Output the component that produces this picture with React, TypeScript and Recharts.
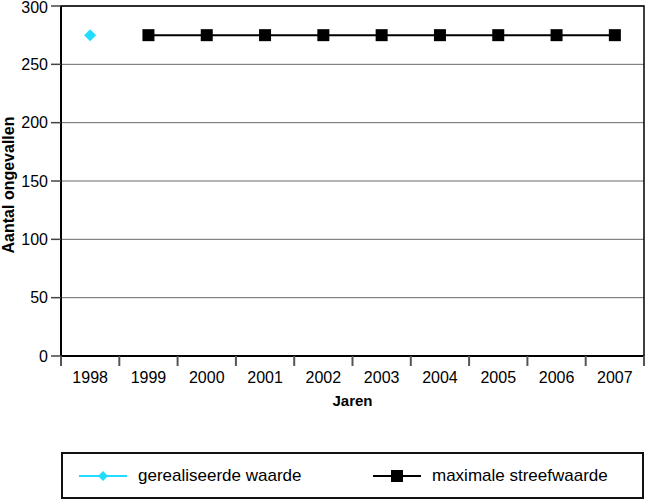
import React from 'react';
import {
  LineChart,
  Line,
  XAxis,
  YAxis,
  CartesianGrid,
  Legend,
  ReferenceArea,
} from 'recharts';

const years = ['1998', '1999', '2000', '2001', '2002', '2003', '2004', '2005', '2006', '2007'];
const gerealiseerd: (number | null)[] = [275, null, null, null, null, null, null, null, null, null];
const streefwaarde: (number | null)[] = [null, 275, 275, 275, 275, 275, 275, 275, 275, 275];
const yTicks = [0, 50, 100, 150, 200, 250, 300];

const seriesNames = { real: 'gerealiseerde waarde', target: 'maximale streefwaarde' };

const data = years.map((y, i) => ({
  year: y,
  real: gerealiseerd[i],
  target: streefwaarde[i],
}));

const W = 646;
const H = 500;
const M = { top: 6, right: 2, left: 0, bottom: 47 };
const Y_W = 61;
const X_H = 50;
const LEG_H = 47;
const PLOT_L = M.left + Y_W;
const PLOT_R = W - M.right;
const PLOT_B = H - M.bottom - LEG_H - X_H;
const BAND = (PLOT_R - PLOT_L) / years.length;
const FONT = '"Liberation Sans", Arial, Helvetica, sans-serif';
const CYAN = '#22DDFF';

const XTick = (props: any) => {
  const { x, payload, index } = props;
  const left = x - BAND / 2;
  return (
    <g>
      <line x1={left} y1={PLOT_B} x2={left} y2={PLOT_B + 10} stroke="#555" strokeWidth={2} />
      {index === years.length - 1 && (
        <line x1={x + BAND / 2} y1={PLOT_B} x2={x + BAND / 2} y2={PLOT_B + 10} stroke="#555" strokeWidth={2} />
      )}
      <text x={x} y={PLOT_B + 27} textAnchor="middle" fontSize={16} fontFamily={FONT} fill="#000">
        {payload.value}
      </text>
    </g>
  );
};

const YTick = (props: any) => {
  const { x, y, payload } = props;
  const yy = Math.max(y, 7);
  return (
    <text x={x} y={yy} dy="0.355em" textAnchor="end" fontSize={16} fontFamily={FONT} fill="#000">
      {payload.value}
    </text>
  );
};

const SquareDot = (props: any) => {
  const { cx, cy, value, index } = props;
  if (value == null || cy == null) return <g key={`s${index}`} />;
  return <rect key={`s${index}`} x={cx - 6} y={cy - 6} width={12} height={12} fill="#000" />;
};

const DiamondDot = (props: any) => {
  const { cx, cy, value, index } = props;
  if (value == null || cy == null) return <g key={`d${index}`} />;
  return (
    <polygon
      key={`d${index}`}
      points={`${cx},${cy - 6} ${cx + 6},${cy} ${cx},${cy + 6} ${cx - 6},${cy}`}
      fill={CYAN}
    />
  );
};

const LegendBox = () => (
  <div
    style={{
      position: 'relative',
      width: PLOT_R - PLOT_L,
      height: LEG_H,
      boxSizing: 'border-box',
      border: '2px solid #111',
      fontFamily: FONT,
      fontSize: 17,
      color: '#000',
    }}
  >
    <div style={{ position: 'absolute', left: 16, top: 0, height: 43, display: 'flex', alignItems: 'center' }}>
      <svg width={48} height={14} style={{ display: 'block' }}>
        <line x1={0} y1={7} x2={48} y2={7} stroke={CYAN} strokeWidth={2} />
        <polygon points="24,2 29,7 24,12 19,7" fill={CYAN} />
      </svg>
      <span style={{ marginLeft: 11 }}>{seriesNames.real}</span>
    </div>
    <div style={{ position: 'absolute', left: 310, top: 0, height: 43, display: 'flex', alignItems: 'center' }}>
      <svg width={48} height={14} style={{ display: 'block' }}>
        <line x1={0} y1={7} x2={48} y2={7} stroke="#000" strokeWidth={2} />
        <rect x={18} y={1} width={12} height={12} fill="#000" />
      </svg>
      <span style={{ marginLeft: 11 }}>{seriesNames.target}</span>
    </div>
  </div>
);

const Y_TITLE_Y = 185;

export default function App() {
  return (
    <div style={{ position: 'absolute', left: 0, top: 0, width: W, height: H, background: '#fff' }}>
      <LineChart width={W} height={H} data={data} margin={M}>
        <CartesianGrid horizontal vertical={false} stroke="#6a6a6a" strokeWidth={1} />
        <ReferenceArea y1={0} y2={300} fill="none" stroke="#000" strokeWidth={1.5} ifOverflow="visible" />
        <XAxis
          dataKey="year"
          scale="band"
          height={X_H}
          tickLine={false}
          axisLine={{ stroke: '#000', strokeWidth: 2 }}
          tick={<XTick />}
          interval={0}
          label={{
            value: 'Jaren',
            position: 'insideBottom',
            offset: 0,
            content: () => (
              <text x={(PLOT_L + PLOT_R) / 2} y={PLOT_B + 50} textAnchor="middle" fontSize={15} fontWeight="bold" fontFamily={FONT} fill="#000">
                Jaren
              </text>
            ),
          }}
        />
        <YAxis
          width={Y_W}
          domain={[0, 300]}
          ticks={yTicks}
          interval={0}
          tickSize={10}
          tickMargin={3}
          tickLine={{ stroke: '#444', strokeWidth: 1.5 }}
          axisLine={{ stroke: '#000', strokeWidth: 2 }}
          tick={<YTick />}
          label={{
            value: 'Aantal ongevallen',
            content: () => (
              <text
                x={14}
                y={Y_TITLE_Y}
                transform={`rotate(-90 14 ${Y_TITLE_Y})`}
                textAnchor="middle"
                fontSize={16}
                fontWeight="bold"
                fontFamily={FONT}
                fill="#000"
              >
                Aantal ongevallen
              </text>
            ),
          }}
        />
        <Legend
          verticalAlign="bottom"
          content={() => <LegendBox />}
          wrapperStyle={{ left: PLOT_L, top: H - LEG_H - 1, bottom: 'auto', width: PLOT_R - PLOT_L, height: LEG_H }}
        />
        <Line
          dataKey="real"
          name={seriesNames.real}
          stroke={CYAN}
          strokeWidth={2}
          dot={<DiamondDot />}
          activeDot={false}
          connectNulls={false}
          isAnimationActive={false}
        />
        <Line
          dataKey="target"
          name={seriesNames.target}
          stroke="#000"
          strokeWidth={2}
          dot={<SquareDot />}
          activeDot={false}
          connectNulls={false}
          isAnimationActive={false}
        />
      </LineChart>
    </div>
  );
}
